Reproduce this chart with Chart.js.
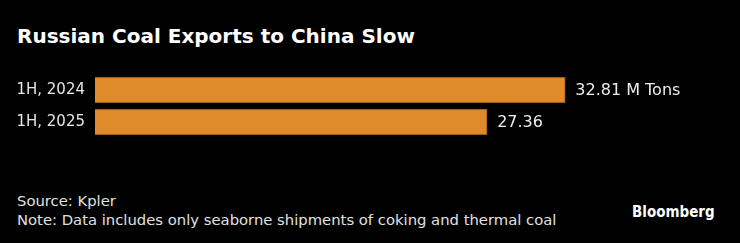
<!DOCTYPE html>
<html>
<head>
<meta charset="utf-8">
<script src="https://cdn.jsdelivr.net/npm/chart.js@4"></script>
<style>
  html, body { margin: 0; padding: 0; background: #000; }
  #page { position: relative; width: 740px; height: 243px; background: #000; overflow: hidden;
          font-family: "DejaVu Sans", sans-serif; color: #e6e6e6; }
  #title { position: absolute; left: 17px; top: 24px; font-size: 20px; font-weight: bold; color: #fff; white-space: nowrap; }
  #coal-chart { position: absolute; left: 0; top: 74px; }
  .foot { position: absolute; left: 17px; font-size: 14.8px; white-space: nowrap; color: #e0e0e0; }
  #source { top: 192px; }
  #note { top: 211px; }
  #logo { position: absolute; left: 632px; top: 203px; font-size: 15px; font-weight: bold; color: #fff;
          font-family: "DejaVu Sans Condensed", "DejaVu Sans", sans-serif; }
</style>
</head>
<body>
<div id="page">
  <div id="title">Russian Coal Exports to China Slow</div>
  <canvas id="coal-chart" width="740" height="64"></canvas>
  <div class="foot" id="source">Source: Kpler</div>
  <div class="foot" id="note">Note: Data includes only seaborne shipments of coking and thermal coal</div>
  <div id="logo">Bloomberg</div>
</div>
<script>
const periods = ["1H, 2024", "1H, 2025"];
const exportsMt = [32.81, 27.36];
const valueLabels = ["32.81 M Tons", "27.36"];

const FONT = "'DejaVu Sans', sans-serif";

// draws the value text just past the end of each bar
const endLabels = {
  id: "endLabels",
  afterDatasetsDraw(chart) {
    const ctx = chart.ctx;
    const meta = chart.getDatasetMeta(0);
    ctx.save();
    ctx.font = `16px ${FONT}`;
    ctx.fillStyle = "#ececec";
    ctx.textBaseline = "middle";
    meta.data.forEach((bar, i) => {
      ctx.fillText(valueLabels[i], bar.x + 10, bar.y + 1);
    });
    ctx.restore();
  },
};

new Chart(document.getElementById("coal-chart"), {
  type: "bar",
  data: {
    labels: periods,
    datasets: [
      {
        data: exportsMt,
        backgroundColor: "#e08a2a",
        borderColor: "#7a5220",
        borderWidth: 1,
        barThickness: 26,
      },
    ],
  },
  options: {
    indexAxis: "y",
    responsive: false,
    animation: false,
    layout: { padding: 0 },
    plugins: {
      legend: { display: false },
      tooltip: { enabled: false },
    },
    scales: {
      x: {
        display: false,
        min: 0,
        max: 45,
      },
      y: {
        // fixed label column, and no extra room above/below the bars
        afterFit: (scale) => {
          scale.width = 95;
          scale.paddingTop = 0;
          scale.paddingBottom = 0;
        },
        grid: { display: false, drawTicks: false },
        border: { display: false },
        ticks: {
          color: "#e6e6e6",
          padding: 10,
          font: { family: FONT, size: 15 },
        },
      },
    },
  },
  plugins: [endLabels],
});
</script>
</body>
</html>
